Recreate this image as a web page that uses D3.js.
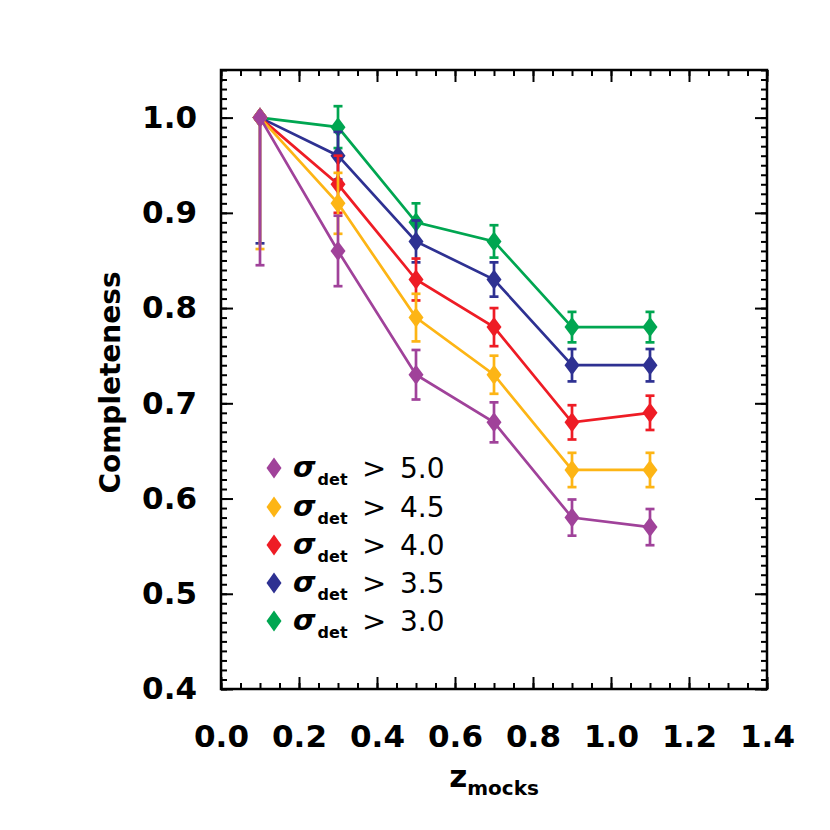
<!DOCTYPE html>
<html><head><meta charset="utf-8">
<script src="https://cdn.jsdelivr.net/npm/d3@7"></script>
<style>body{margin:0;background:#fff}svg{display:block}text{font-family:"DejaVu Sans",sans-serif;}</style>
</head><body><svg id="c" width="830" height="830"></svg>
<script>
const zValues = [0.1, 0.3, 0.5, 0.7, 0.9, 1.1];
const seriesNames = ["5.0", "4.5", "4.0", "3.5", "3.0"];
const seriesColors = ["#a0429a", "#fdb515", "#ee1c25", "#2e3192", "#00a651"];
const compSig50 = [1.00, 0.86, 0.73, 0.68, 0.58, 0.57];
const compSig45 = [1.00, 0.91, 0.79, 0.73, 0.63, 0.63];
const compSig40 = [1.00, 0.93, 0.83, 0.78, 0.68, 0.69];
const compSig35 = [1.00, 0.96, 0.87, 0.83, 0.74, 0.74];
const compSig30 = [1.00, 0.99, 0.89, 0.87, 0.78, 0.78];
// error bars: lower and upper extents
const errLoSig50 = [0.155, 0.037, 0.026, 0.021, 0.019, 0.019];
const errHiSig50 = [0.000, 0.037, 0.026, 0.021, 0.019, 0.019];
const errLoSig45 = [0.138, 0.032, 0.025, 0.020, 0.018, 0.018];
const errHiSig45 = [0.000, 0.032, 0.025, 0.020, 0.018, 0.018];
const errLoSig40 = [0.000, 0.030, 0.022, 0.020, 0.018, 0.018];
const errHiSig40 = [0.000, 0.030, 0.022, 0.020, 0.018, 0.018];
const errLoSig35 = [0.132, 0.025, 0.022, 0.018, 0.017, 0.017];
const errHiSig35 = [0.000, 0.025, 0.022, 0.018, 0.017, 0.017];
const errLoSig30 = [0.000, 0.022, 0.020, 0.017, 0.016, 0.016];
const errHiSig30 = [0.000, 0.022, 0.020, 0.017, 0.016, 0.016];
const xTicks = [0.0, 0.2, 0.4, 0.6, 0.8, 1.0, 1.2, 1.4];
const yTicks = [0.4, 0.5, 0.6, 0.7, 0.8, 0.9, 1.0];

const series = [
  {name: seriesNames[0], color: seriesColors[0], y: compSig50, lo: errLoSig50, hi: errHiSig50},
  {name: seriesNames[1], color: seriesColors[1], y: compSig45, lo: errLoSig45, hi: errHiSig45},
  {name: seriesNames[2], color: seriesColors[2], y: compSig40, lo: errLoSig40, hi: errHiSig40},
  {name: seriesNames[3], color: seriesColors[3], y: compSig35, lo: errLoSig35, hi: errHiSig35},
  {name: seriesNames[4], color: seriesColors[4], y: compSig30, lo: errLoSig30, hi: errHiSig30}
];

const L = 221, R = 767, T = 70, B = 689;
const svg = d3.select("#c");
const x = d3.scaleLinear().domain([0, 1.4]).range([L, R]);
const y = d3.scaleLinear().domain([0.4, 1.05]).range([B, T]);

const xMinor = d3.range(0, 1.4001, 0.05);
const yMinor = d3.range(0.4, 1.0501, 0.01);

function styleAxis(g){ g.select(".domain").remove(); g.selectAll("line").attr("stroke","#000").attr("stroke-width",2); }

// minor ticks
svg.append("g").attr("transform",`translate(0,${B})`).call(d3.axisBottom(x).tickValues(xMinor).tickSize(-6).tickFormat("")).call(styleAxis);
svg.append("g").attr("transform",`translate(0,${T})`).call(d3.axisTop(x).tickValues(xMinor).tickSize(-6).tickFormat("")).call(styleAxis);
svg.append("g").attr("transform",`translate(${L},0)`).call(d3.axisLeft(y).tickValues(yMinor).tickSize(-6).tickFormat("")).call(styleAxis);
svg.append("g").attr("transform",`translate(${R},0)`).call(d3.axisRight(y).tickValues(yMinor).tickSize(-6).tickFormat("")).call(styleAxis);
// major ticks
const xb = svg.append("g").attr("transform",`translate(0,${B})`).call(d3.axisBottom(x).tickValues(xTicks).tickSize(-12).tickPadding(36).tickFormat(d3.format(".1f"))).call(styleAxis);
svg.append("g").attr("transform",`translate(0,${T})`).call(d3.axisTop(x).tickValues(xTicks).tickSize(-12).tickFormat("")).call(styleAxis);
const yl = svg.append("g").attr("transform",`translate(${L},0)`).call(d3.axisLeft(y).tickValues(yTicks).tickSize(-12).tickPadding(24).tickFormat(d3.format(".1f"))).call(styleAxis);
svg.append("g").attr("transform",`translate(${R},0)`).call(d3.axisRight(y).tickValues(yTicks).tickSize(-12).tickFormat("")).call(styleAxis);
[xb, yl].forEach(g => g.selectAll("text").attr("font-size",31).attr("font-weight",700).attr("fill","#000").attr("font-family","DejaVu Sans, sans-serif"));

// frame
svg.append("rect").attr("x",L).attr("y",T).attr("width",R-L).attr("height",B-T).attr("fill","none").attr("stroke","#000").attr("stroke-width",2.5);

// titles
svg.append("text").attr("transform",`translate(120,${(T+B)/2 + 3}) rotate(-90)`).attr("text-anchor","middle")
  .attr("font-size",28).attr("font-weight",700).text("Completeness");
const xt = svg.append("text").attr("x",494).attr("y",787).attr("text-anchor","middle").attr("font-weight",700);
xt.append("tspan").attr("font-size",31).text("z");
xt.append("tspan").attr("font-size",20).attr("dy",8).text("mocks");

const diamond = (cx, cy, w, h) => `M${cx},${cy-h/2}L${cx+w/2},${cy}L${cx},${cy+h/2}L${cx-w/2},${cy}Z`;
const line = d3.line().x((d,i)=>x(zValues[i])).y(d=>y(d));

// draw green first, purple last (purple on top)
[...series].reverse().forEach(s => {
  const g = svg.append("g");
  g.append("path").attr("d", line(s.y)).attr("fill","none").attr("stroke",s.color).attr("stroke-width",2.7);
  zValues.forEach((z,i) => {
    const cx = x(z);
    if (s.lo[i] > 0 || s.hi[i] > 0) {
      const y0 = y(s.y[i]-s.lo[i]), y1 = y(s.y[i]+s.hi[i]);
      g.append("line").attr("x1",cx).attr("x2",cx).attr("y1",y0).attr("y2",y1).attr("stroke",s.color).attr("stroke-width",2.7);
      if (s.lo[i] > 0) g.append("line").attr("x1",cx-4.5).attr("x2",cx+4.5).attr("y1",y0).attr("y2",y0).attr("stroke",s.color).attr("stroke-width",2.7);
      if (s.hi[i] > 0) g.append("line").attr("x1",cx-4.5).attr("x2",cx+4.5).attr("y1",y1).attr("y2",y1).attr("stroke",s.color).attr("stroke-width",2.7);
    }
    g.append("path").attr("d", diamond(cx, y(s.y[i]), 15, 20)).attr("fill", s.color);
  });
});

// legend
const legY = [468, 507, 545, 583, 621];
series.forEach((s,i) => {
  const cy = legY[i];
  svg.append("path").attr("d", diamond(274, cy, 15, 21)).attr("fill", s.color);
  const t = svg.append("text").attr("x",293).attr("y",cy+9).attr("font-weight",700);
  t.append("tspan").attr("font-size",29).attr("font-style","italic").text("σ");
  t.append("tspan").attr("font-size",16).attr("dy",8).attr("dx",2).text("det");
  svg.append("text").attr("x",362).attr("y",cy+10).attr("font-size",29).text(">");
  svg.append("text").attr("x",400).attr("y",cy+10).attr("font-size",28).text(s.name);
});
</script></body></html>
